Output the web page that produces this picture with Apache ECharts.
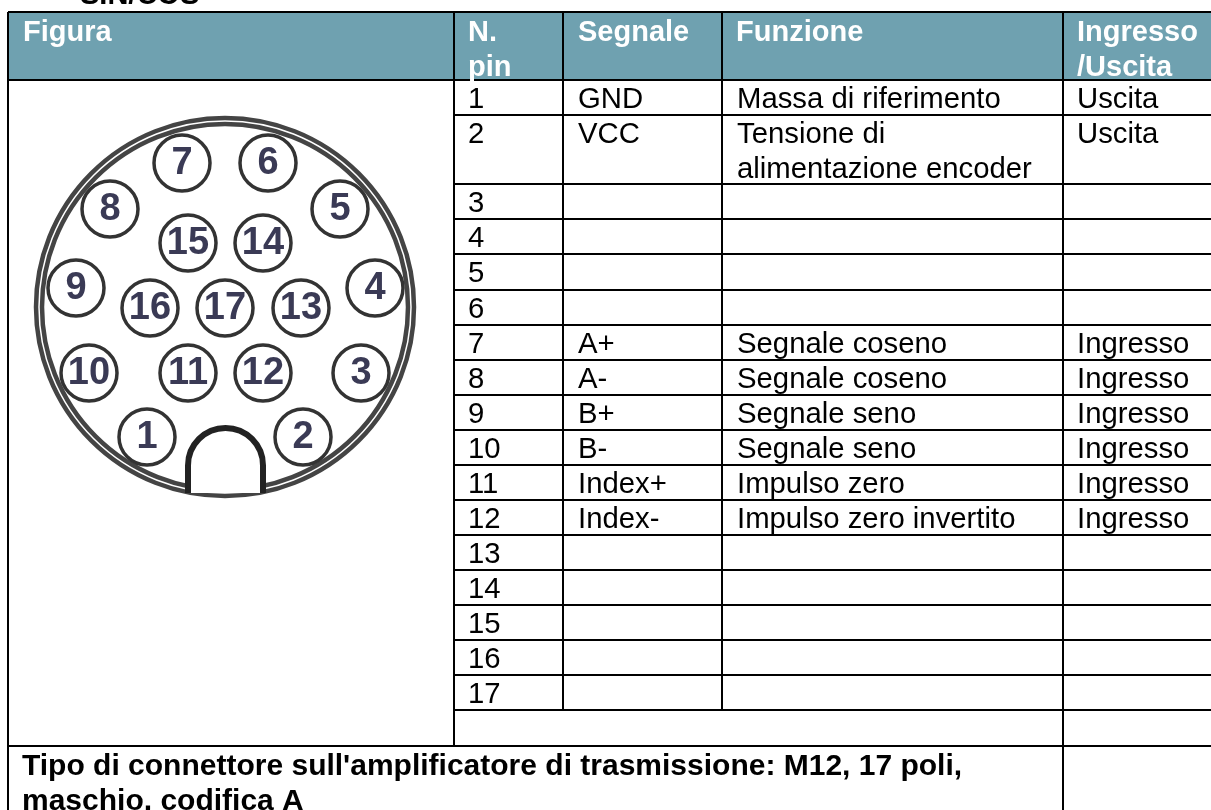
<!DOCTYPE html>
<html><head><meta charset="utf-8">
<style>html,body{margin:0;padding:0;background:#fff}#c{width:1211px;height:810px}</style>
<script src="https://cdn.jsdelivr.net/npm/echarts@6/dist/echarts.min.js"></script>
</head><body><div id="c"></div>
<script>
// ---- content
var pageHeading = 'SIN/COS';
var headers = ['Figura', 'N.\npin', 'Segnale', 'Funzione', 'Ingresso\n/Uscita'];
var pinNumbers = [1,2,3,4,5,6,7,8,9,10,11,12,13,14,15,16,17];
var signals = ['GND','VCC','','','','','A+','A-','B+','B-','Index+','Index-','','','','',''];
var functions = ['Massa di riferimento','Tensione di\nalimentazione encoder','','','','','Segnale coseno','Segnale coseno','Segnale seno','Segnale seno','Impulso zero','Impulso zero invertito','','','','',''];
var directions = ['Uscita','Uscita','','','','','Ingresso','Ingresso','Ingresso','Ingresso','Ingresso','Ingresso','','','','',''];
var footerLines = ["Tipo di connettore sull'amplificatore di trasmissione: M12, 17 poli,", "maschio, codifica A"];
// connector face: pin positions
var pinX = [147,303,361,375,340,268,182,110,76,89,188,263,301,263,188,150,225];
var pinY = [437,437,373,288,209,163,163,209,288,373,373,373,308,243,243,308,308];
var ringRadii = [189,183];
var ringCentre = [225,307];
// ---- layout
var colX = [8,454,563,722,1063,1215];
var rowY = [12,80,115,184,219,254,290,325,360,395,430,465,500,535,570,605,640,675,710,746,815];
var textInsetX = 15;
var lineHeight = 35;
var FONT = '"Liberation Sans",Arial,sans-serif';
var BODY = '29.3px ' + FONT, BOLD = 'bold 29px ' + FONT, FOOT = 'bold 30px ' + FONT;
var HEAD = '#6fa1b0', INK = '#000';

var segs = [];
function H(y, a, b){ segs.push([colX[a], y, colX[b], y]); }
function V(x, a, b){ segs.push([x, rowY[a], x, rowY[b]]); }
H(rowY[0],0,5); H(rowY[1],0,5);
for (var r=2;r<=18;r++) H(rowY[r],1,5);
H(rowY[19],0,5);
V(colX[0],0,20); V(colX[1],0,19);
V(colX[2],0,18); V(colX[3],0,18);
V(colX[4],0,20);

var texts = [];
function T(x,y,s,f,c){ if(s) s.split('\n').forEach(function(l,i){ texts.push({x:x,y:y+i*lineHeight,s:l,f:f,c:c}); }); }
T(80,-4,pageHeading,BOLD,INK);
headers.forEach(function(h,i){ T(colX[i]+14+(i==0?1:0)+(i==2?1:0),33,h,BOLD,'#fff'); });
for (var i=0;i<17;i++){
  var yy = rowY[i+1] + 20;
  T(colX[1]+14,yy,String(pinNumbers[i]),BODY,INK);
  T(colX[2]+textInsetX,yy,signals[i],BODY,INK);
  T(colX[3]+textInsetX,yy,functions[i],BODY,INK);
  T(colX[4]+14,yy,directions[i],BODY,INK);
}
T(22,rowY[19]+21,footerLines[0],FOOT,INK);
T(22,rowY[19]+56,footerLines[1],FOOT,INK);

var chart = echarts.init(document.getElementById('c'),null,{renderer:'canvas'});
chart.setOption({
  animation:false, backgroundColor:'#fff',
  grid:{left:0,right:0,top:0,bottom:0},
  xAxis:{type:'value',min:0,max:1211,show:false},
  yAxis:{type:'value',min:0,max:810,inverse:true,show:false},
  series:[
    {type:'custom',z:1,silent:true,clip:false,data:[[colX[0],rowY[0],colX[5],rowY[1]]],
     renderItem:function(p,api){
       var a=api.coord([api.value(0),api.value(1)]),b=api.coord([api.value(2),api.value(3)]);
       return {type:'rect',shape:{x:a[0],y:a[1],width:b[0]-a[0],height:b[1]-a[1]},style:{fill:HEAD}};
     }},
    {type:'custom',z:2,silent:true,clip:false,data:segs,
     renderItem:function(p,api){
       var a=api.coord([api.value(0),api.value(1)]),b=api.coord([api.value(2),api.value(3)]);
       return {type:'line',shape:{x1:a[0],y1:a[1],x2:b[0],y2:b[1]},style:{stroke:'#000',lineWidth:2}};
     }},
    {type:'custom',z:3,silent:true,clip:false,data:texts.map(function(t){return [t.x,t.y];}),
     renderItem:function(p,api){
       var a=api.coord([api.value(0),api.value(1)]),t=texts[p.dataIndex];
       return {type:'text',x:a[0],y:a[1],style:{text:t.s,font:t.f,fill:t.c,textAlign:'left',textVerticalAlign:'middle'}};
     }},
    // connector shell
    {type:'custom',z:4,silent:true,clip:false,data:ringRadii.map(function(r){return [ringCentre[0],ringCentre[1],r];}),
     renderItem:function(p,api){
       var a=api.coord([api.value(0),api.value(1)]),r=api.size([api.value(2),0])[0];
       return {type:'circle',shape:{cx:a[0],cy:a[1],r:r},style:{fill:null,stroke:'#444',lineWidth:4.5}};
     }},
    // keyway
    {type:'custom',z:5,silent:true,clip:false,data:[[188,263,428,493]],
     renderItem:function(p,api){
       var a=api.coord([api.value(0),api.value(2)]),b=api.coord([api.value(1),api.value(3)]);
       var R=(b[0]-a[0])/2;
       return {type:'path',shape:{pathData:'M'+a[0]+' '+b[1]+'L'+a[0]+' '+(a[1]+R)+'A'+R+' '+R+' 0 0 1 '+b[0]+' '+(a[1]+R)+'L'+b[0]+' '+b[1]},
         style:{fill:'#fff',stroke:'#222',lineWidth:6}};
     }},
    // pins
    {type:'scatter',z:6,silent:true,clip:false,symbol:'circle',symbolSize:56,
     data:pinNumbers.map(function(n,i){return [pinX[i],pinY[i],n];}),
     itemStyle:{color:'#fff',borderColor:'#333',borderWidth:3.5,opacity:1},
     label:{show:true,position:'inside',formatter:function(p){return String(p.value[2]);},
       fontFamily:FONT,fontSize:38,fontWeight:'bold',color:'#3a3a55',offset:[0,1]}}
  ]
});
</script></body></html>
